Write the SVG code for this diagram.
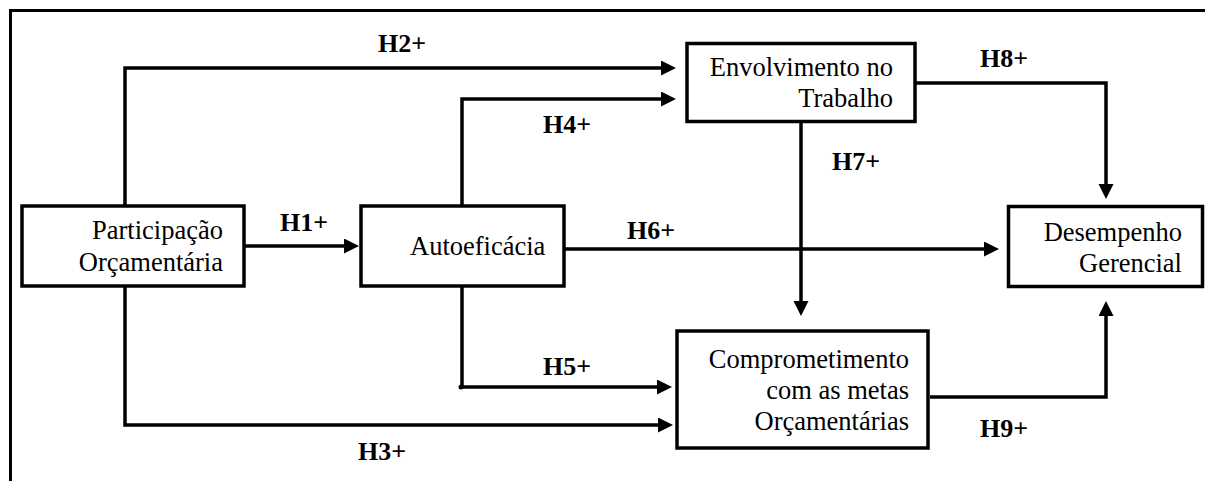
<svg xmlns="http://www.w3.org/2000/svg" width="1205" height="481" viewBox="0 0 1205 481">
<style>
.box{fill:#fff;stroke:#000;stroke-width:3.5}
.t{font-family:"Liberation Serif","DejaVu Serif",serif;font-size:26.5px;fill:#000}
.lb{font-family:"Liberation Serif","DejaVu Serif",serif;font-size:26px;font-weight:bold;fill:#000}
.c{fill:none;stroke:#000;stroke-width:3.5}
.frame{fill:none;stroke:#000;stroke-width:3}
</style>
<defs>
<marker id="ah" markerUnits="userSpaceOnUse" markerWidth="16" markerHeight="16" refX="2" refY="7.5" orient="auto">
<path d="M0,0 L15,7.5 L0,15 z" fill="#000"/>
</marker>
</defs>
<rect width="1205" height="481" fill="#fff"/>
<path class="frame" d="M10.5,481 V10.5 H1205"/>
<g id="connectors">
<path class="c" d="M244,246 H346" marker-end="url(#ah)"/>
<path class="c" d="M125,205 V68 H663" marker-end="url(#ah)"/>
<path class="c" d="M462,205 V99 H663" marker-end="url(#ah)"/>
<path class="c" d="M564,249 H986" marker-end="url(#ah)"/>
<path class="c" d="M801,123 V303" marker-end="url(#ah)"/>
<path class="c" d="M916,83 H1106 V186" marker-end="url(#ah)"/>
<path class="c" d="M930,397 H1106 V314" marker-end="url(#ah)"/>
<path class="c" d="M462,287 V387 H659" marker-end="url(#ah)"/>
<path class="c" d="M125,287 V425 H660" marker-end="url(#ah)"/>
<circle cx="461" cy="387" r="2.5" fill="#000"/>
<text class="lb" x="280" y="231">H1+</text>
<text class="lb" x="378" y="52">H2+</text>
<text class="lb" x="358" y="460">H3+</text>
<text class="lb" x="543" y="133">H4+</text>
<text class="lb" x="543" y="375">H5+</text>
<text class="lb" x="627" y="239">H6+</text>
<text class="lb" x="832" y="170">H7+</text>
<text class="lb" x="980" y="67">H8+</text>
<text class="lb" x="980" y="437">H9+</text>
</g>
<g id="participacao">
<rect class="box" x="22" y="206" width="222" height="80"/>
<text class="t" x="223" y="239" text-anchor="end">Participação</text>
<text class="t" x="223" y="271" text-anchor="end">Orçamentária</text>
</g>
<g id="autoeficacia">
<rect class="box" x="361" y="206" width="203" height="80"/>
<text class="t" x="410" y="255">Autoeficácia</text>
</g>
<g id="envolvimento">
<rect class="box" x="687" y="43.5" width="228" height="78"/>
<text class="t" x="893" y="76" text-anchor="end">Envolvimento no</text>
<text class="t" x="893" y="107" text-anchor="end">Trabalho</text>
</g>
<g id="desempenho">
<rect class="box" x="1008.5" y="206.5" width="194" height="80"/>
<text class="t" x="1182" y="241" text-anchor="end">Desempenho</text>
<text class="t" x="1182" y="272" text-anchor="end">Gerencial</text>
</g>
<g id="comprometimento">
<rect class="box" x="677" y="331" width="251" height="117"/>
<text class="t" x="909" y="368" text-anchor="end">Comprometimento</text>
<text class="t" x="909" y="399" text-anchor="end">com as metas</text>
<text class="t" x="909" y="430" text-anchor="end">Orçamentárias</text>
</g>
</svg>
